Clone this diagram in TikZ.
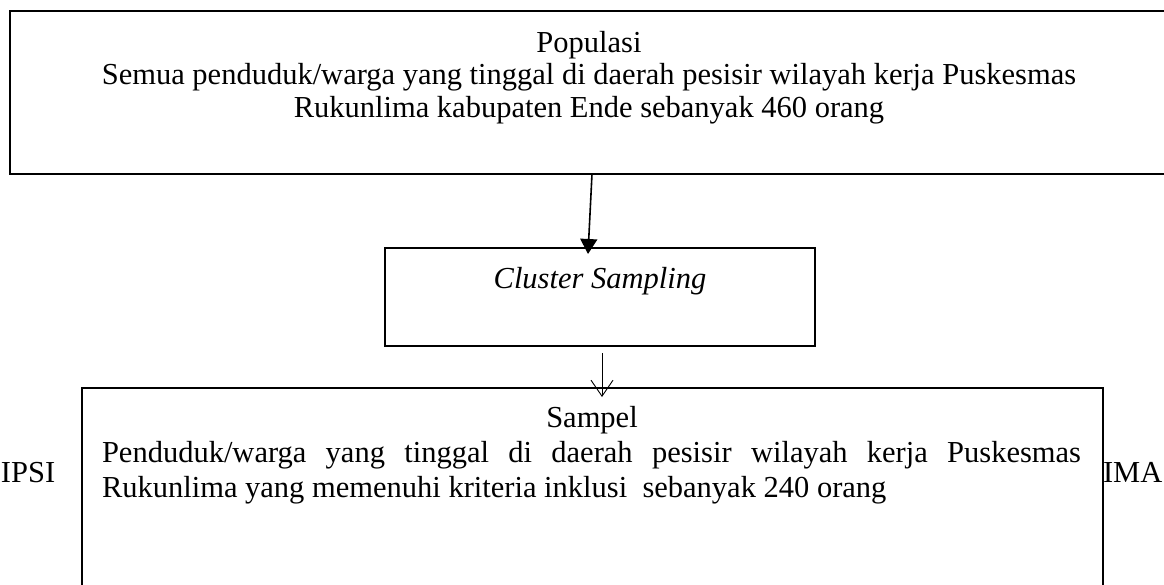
\documentclass[tikz,border=0pt]{standalone}
\usepackage{fontspec}
\setmainfont{Liberation Serif}
\usetikzlibrary{arrows.meta}
\begin{document}
\begin{tikzpicture}[x=1pt,y=-1pt,
  every node/.style={inner sep=0pt, outer sep=0pt},
  boxa/.style={draw, line width=1.8pt, anchor=north west},
  boxb/.style={draw, line width=1.3pt, anchor=north west, fill=white},
  txt/.style={font=\fontsize{30.5}{32.5}\selectfont},
  txtb/.style={font=\fontsize{30.5}{35}\selectfont},
  arrfill/.style={line width=1.6pt, -{Triangle[length=15pt,width=17pt]}},
  arrbarb/.style={line width=0.9pt, -{Straight Barb[length=16pt,width=22pt,line width=0.9pt]}}]
\useasboundingbox (0,0) rectangle (1164,584);
% side texts (behind the sample box)
\node[txt, anchor=base west] (left) at (1,482) {IPSI};
\node[txt, anchor=base west] (right) at (1103,482) {IMA};
% boxes
\node[boxa, minimum width=1180pt, minimum height=163pt] (pop) at (10,11) {};
\node[boxa, minimum width=430pt, minimum height=98pt] (clu) at (385,248) {};
\node[boxb, minimum width=1021pt, minimum height=220pt] (samp) at (82,388) {};
% texts
\node[txt, align=center, anchor=north] (poptxt) at (589,29.25) {\strut Populasi\\Semua penduduk/warga yang tinggal di daerah pesisir wilayah kerja Puskesmas\\Rukunlima kabupaten Ende sebanyak 460 orang};
\node[txt, anchor=base] (clutxt) at (600,288) {\textit{Cluster Sampling}};
\node[txt, anchor=base] (samptitle) at (592,427) {Sampel};
\node[txtb, anchor=north west, text width=979pt, align=justify] (samptxt) at (102,437.5) {\strut Penduduk/warga yang tinggal di daerah pesisir wilayah kerja Puskesmas\linebreak Rukunlima yang memenuhi kriteria inklusi \ sebanyak 240 orang};
% connectors
\draw[arrfill] ([xshift=-8pt]pop.south) -- ([xshift=-12pt,yshift=-6pt]clu.north);
\draw[arrbarb] ([xshift=2pt,yshift=-7pt]clu.south) -- ([xshift=2pt,yshift=-9pt]clu.south |- samp.north);
\end{tikzpicture}
\end{document}
